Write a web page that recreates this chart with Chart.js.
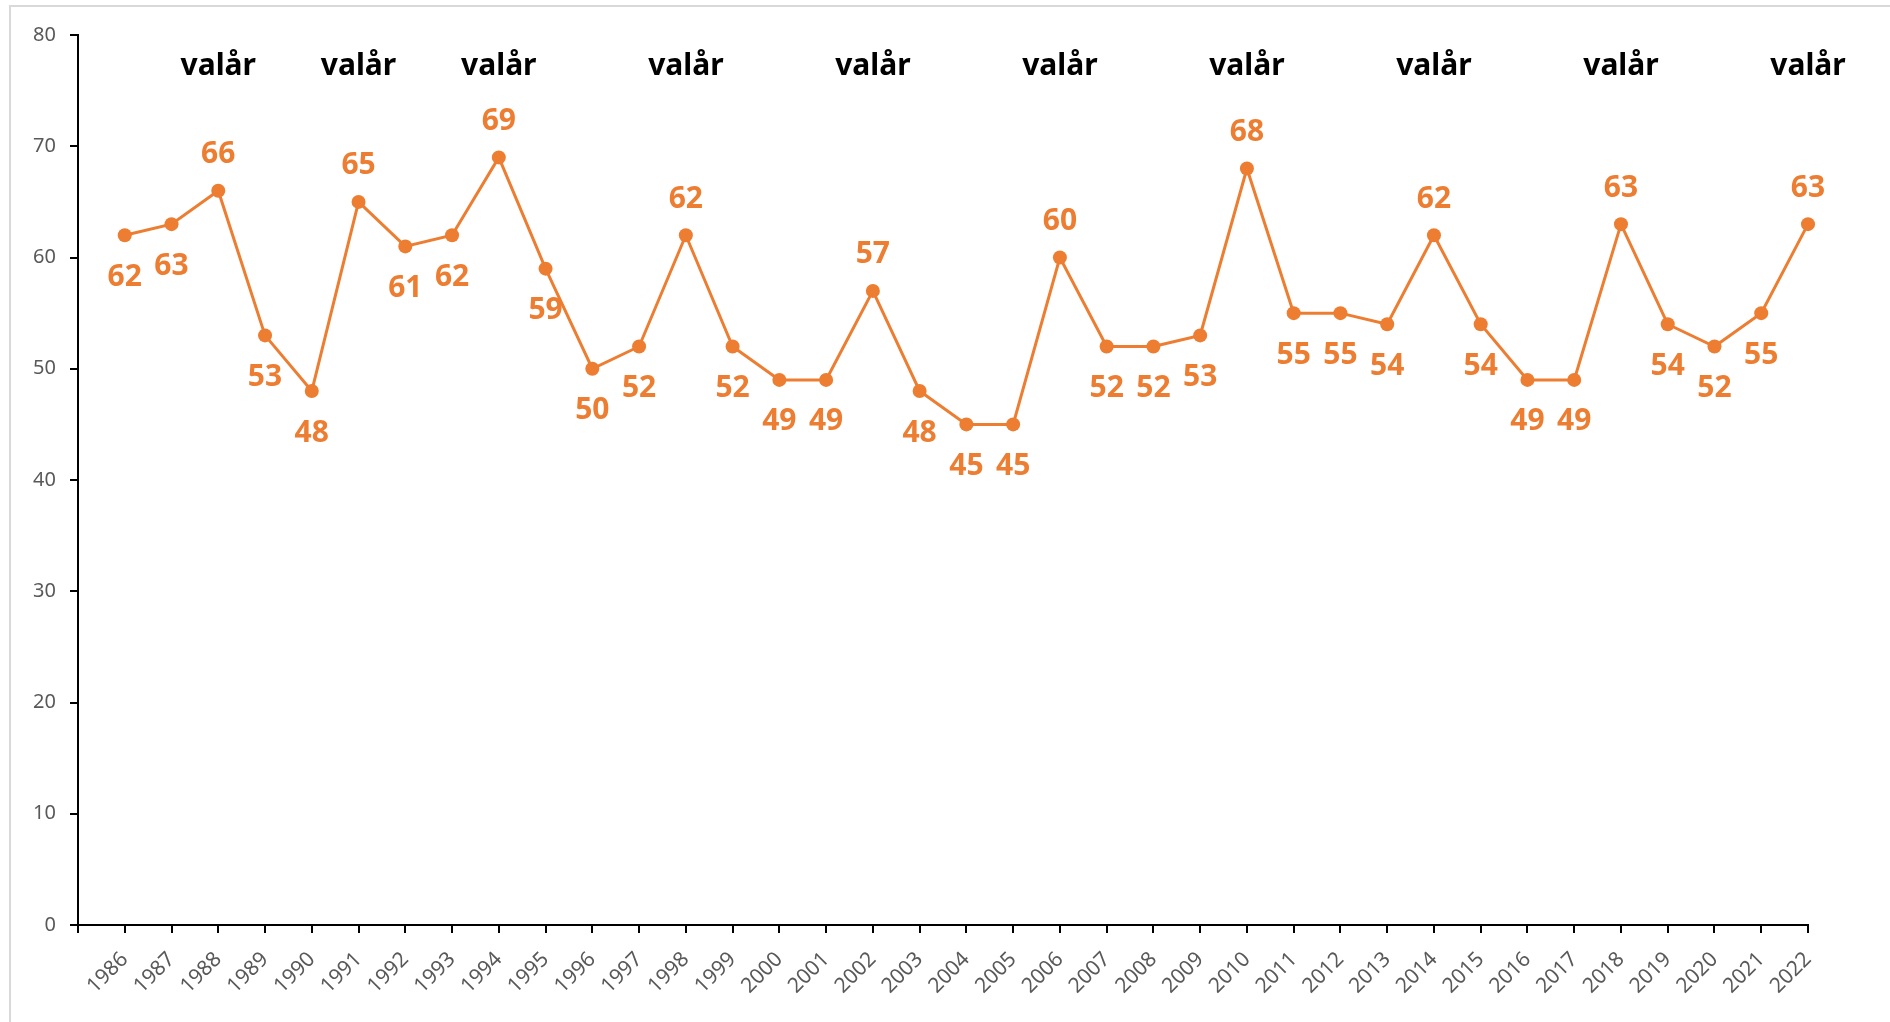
<!DOCTYPE html>
<html>
<head>
<meta charset="utf-8">
<script src="https://cdn.jsdelivr.net/npm/chart.js@4.4.1/dist/chart.umd.min.js"></script>
<style>
  html, body { margin: 0; padding: 0; background: #fff; }
  #wrap { position: relative; width: 1890px; height: 1022px; overflow: hidden; }
  #frame { position: absolute; left: 9px; top: 5px; width: 2000px; height: 2000px;
           border-left: 2px solid #d9d9d9; border-top: 2px solid #d9d9d9; }
  canvas { position: absolute; left: 0; top: 0; }
</style>
</head>
<body>
<div id="wrap">
  <div id="frame"></div>
  <canvas id="chart" width="1890" height="1022"></canvas>
</div>
<script>
// data
const years = [1986, 1987, 1988, 1989, 1990, 1991, 1992, 1993, 1994, 1995,
  1996, 1997, 1998, 1999, 2000, 2001, 2002, 2003, 2004, 2005, 2006, 2007,
  2008, 2009, 2010, 2011, 2012, 2013, 2014, 2015, 2016, 2017, 2018, 2019,
  2020, 2021, 2022];
const values = [62, 63, 66, 53, 48, 65, 61, 62, 69, 59, 50, 52, 62, 52, 49, 49,
  57, 48, 45, 45, 60, 52, 52, 53, 68, 55, 55, 54, 62, 54, 49, 49, 63, 54, 52, 55, 63];
const electionYears = [1988, 1991, 1994, 1998, 2002, 2006, 2010, 2014, 2018, 2022];
const electionText = 'valår';
const yTicks = [0, 10, 20, 30, 40, 50, 60, 70, 80];

const ORANGE = '#ED7D31';
const GREY = '#595959';
const FONT = "'Noto Sans', 'DejaVu Sans', sans-serif";

// value labels + "valår" markers
const labelPlugin = {
  id: 'labels',
  afterDatasetsDraw(chart) {
    const { ctx, scales: { x, y } } = chart;
    ctx.save();
    ctx.textAlign = 'center';
    ctx.textBaseline = 'middle';
    ctx.font = 'bold 30px ' + FONT;
    ctx.fillStyle = ORANGE;
    years.forEach((yr, i) => {
      const px = x.getPixelForValue(yr);
      const py = y.getPixelForValue(values[i]);
      const above = electionYears.includes(yr);
      ctx.fillText(String(values[i]), px, above ? py - 36 : py + 42);
    });
    ctx.fillStyle = '#000';
    electionYears.forEach(yr => {
      ctx.fillText(electionText, x.getPixelForValue(yr), y.getPixelForValue(77.2));
    });
    ctx.restore();
  }
};

new Chart(document.getElementById('chart'), {
  type: 'line',
  data: {
    datasets: [{
      data: years.map((yr, i) => ({ x: yr, y: values[i] })),
      borderColor: ORANGE,
      backgroundColor: ORANGE,
      borderWidth: 3,
      pointRadius: 7,
      pointBorderWidth: 0,
      tension: 0,
      clip: false,
    }],
  },
  options: {
    responsive: false, animation: false,
    layout: { padding: { top: 35, right: 82, left: 0, bottom: 0 } },
    plugins: { legend: { display: false }, tooltip: { enabled: false } },
    scales: {
      x: {
        type: 'linear', min: 1985, max: 2022,
        afterBuildTicks: s => { s.ticks = [1985, ...years].map(v => ({ value: v })); },
        afterFit: s => { s.height = 97; },
        grid: { drawOnChartArea: false, drawTicks: true, tickLength: 8, color: '#000', lineWidth: 2 },
        border: { color: '#000', width: 2 },
        ticks: {
          color: GREY, font: { family: FONT, size: 21 },
          minRotation: 45, maxRotation: 45, padding: 14,
          callback: v => (v === 1985 ? '' : String(v)),
        },
      },
      y: {
        min: 0, max: 80,
        afterBuildTicks: s => { s.ticks = yTicks.map(v => ({ value: v })); },
        afterFit: s => { s.width = 78; },
        grid: { drawOnChartArea: false, drawTicks: true, tickLength: 8, color: '#000', lineWidth: 2 },
        border: { color: '#000', width: 2 },
        ticks: { color: GREY, font: { family: FONT, size: 20 }, padding: 14 },
      },
    },
  },
  plugins: [labelPlugin],
});
</script>
</body>
</html>
